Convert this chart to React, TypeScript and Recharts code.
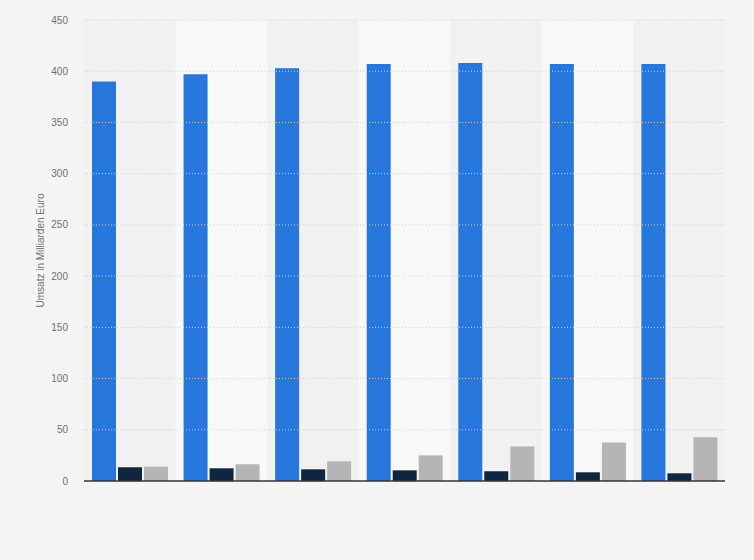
import React from 'react';
import {
  BarChart,
  Bar,
  XAxis,
  YAxis,
  ReferenceArea,
  ReferenceLine,
} from 'recharts';

const categories = ['2012', '2013', '2014', '2015', '2016', '2017', '2018'];
const gesamt = [390, 397, 403, 407, 408, 407, 407];
const versand = [13.4, 12.4, 11.4, 10.4, 9.5, 8.5, 7.5];
const online = [14, 16.3, 19.2, 25, 33.8, 37.7, 42.6];
const yTicks = [0, 50, 100, 150, 200, 250, 300, 350, 400, 450];

const data = categories.map((name, i) => ({
  name,
  gesamt: gesamt[i],
  versand: versand[i],
  online: online[i],
}));

const tickStyle = { fontSize: 10, fill: '#707070', fontFamily: 'Liberation Sans, Arial, sans-serif' };

export default function App() {
  return (
    <div
      style={{
        position: 'absolute',
        left: 0,
        top: 0,
        width: 754,
        height: 560,
        background: '#f4f4f4',
      }}
    >
      <BarChart
        width={754}
        height={560}
        data={data}
        margin={{ top: 20, right: 29, left: 0, bottom: 49 }}
        barCategoryGap={8}
        barGap={2}
      >
        {categories.map((c, i) => (
          <ReferenceArea
            key={c}
            x1={c}
            x2={c}
            fill={i % 2 === 0 ? '#f1f1f1' : '#f8f8f8'}
            fillOpacity={1}
            stroke="none"
          />
        ))}
        {yTicks.slice(1).map((t) => (
          <ReferenceLine
            key={t}
            y={t}
            stroke="#d2d2d2"
            strokeDasharray="1 2"
          />
        ))}
        <XAxis
          dataKey="name"
          tick={false}
          tickLine={false}
          axisLine={{ stroke: '#333333', strokeWidth: 1.5 }}
          height={30}
        />
        <YAxis
          width={84}
          domain={[0, 450]}
          ticks={yTicks}
          tick={tickStyle}
          tickLine={false}
          axisLine={false}
          tickMargin={10}
          label={{
            value: 'Umsatz in Milliarden Euro',
            angle: -90,
            position: 'center',
            dx: -2,
            style: { ...tickStyle, textAnchor: 'middle' },
          }}
        />
        <Bar dataKey="gesamt" fill="#2776db" isAnimationActive={false} />
        <Bar dataKey="versand" fill="#0f263e" isAnimationActive={false} />
        <Bar dataKey="online" fill="#b5b5b5" isAnimationActive={false} />
      </BarChart>
    </div>
  );
}
